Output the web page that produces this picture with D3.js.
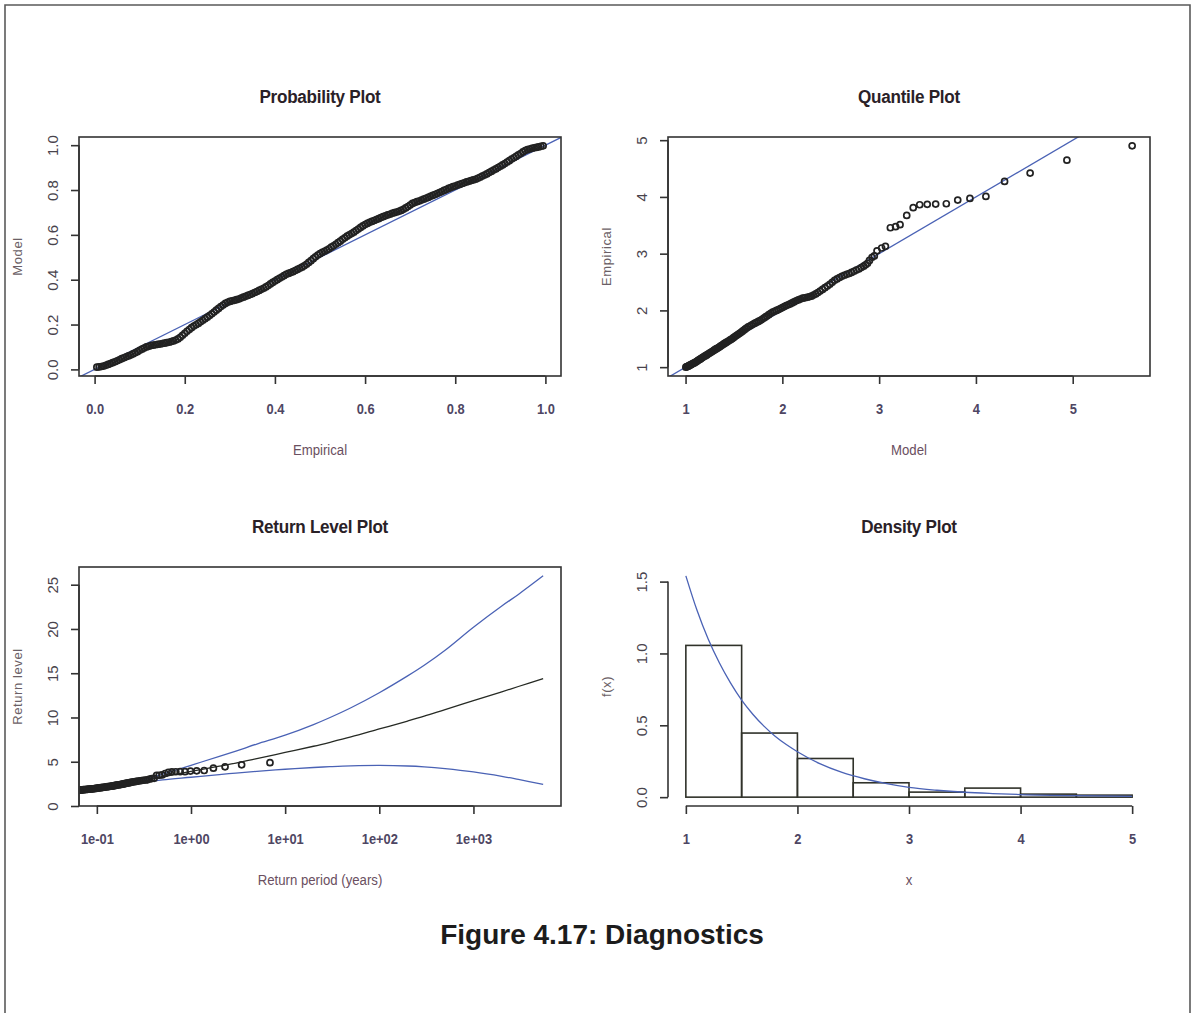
<!DOCTYPE html>
<html>
<head>
<meta charset="utf-8">
<script src="https://cdn.jsdelivr.net/npm/d3@7"></script>
<style>
  html, body { margin: 0; padding: 0; background: #fff; }
  svg { display: block; }
</style>
</head>
<body>
<svg id="fig" width="1193" height="1013"></svg>
<script>
// ---------- Probability plot: [empirical probability, model probability] ----------
const probPoints = [
  [0.005,.010],[0.010,.011],[0.015,.013],[0.020,.015],[0.025,.018],[0.030,.022],[0.035,.026],
  [0.040,.030],[0.045,.034],[0.050,.038],[0.055,.043],[0.060,.048],[0.065,.052],[0.070,.056],
  [0.075,.060],[0.080,.064],[0.085,.069],[0.090,.074],[0.095,.079],[0.100,.085],[0.105,.090],
  [0.110,.095],[0.115,.100],[0.120,.103],[0.125,.106],[0.130,.108],[0.135,.110],[0.140,.112],
  [0.145,.113],[0.150,.115],[0.155,.117],[0.160,.119],[0.165,.121],[0.170,.124],[0.175,.127],
  [0.180,.131],[0.185,.136],[0.190,.143],[0.195,.152],[0.200,.161],[0.205,.170],[0.210,.178],
  [0.215,.186],[0.220,.193],[0.225,.199],[0.230,.205],[0.235,.212],[0.240,.219],[0.245,.226],
  [0.250,.233],[0.255,.240],[0.260,.248],[0.265,.256],[0.270,.264],[0.275,.272],[0.280,.280],
  [0.285,.287],[0.290,.294],[0.295,.299],[0.300,.303],[0.305,.306],[0.310,.308],[0.315,.311],
  [0.320,.314],[0.325,.318],[0.330,.322],[0.335,.326],[0.340,.330],[0.345,.334],[0.350,.338],
  [0.355,.343],[0.360,.347],[0.365,.352],[0.370,.357],[0.375,.362],[0.380,.368],[0.385,.374],
  [0.390,.381],[0.395,.388],[0.400,.394],[0.405,.400],[0.410,.406],[0.415,.412],[0.420,.418],
  [0.425,.424],[0.430,.428],[0.435,.432],[0.440,.436],[0.445,.441],[0.450,.446],[0.455,.451],
  [0.460,.456],[0.465,.462],[0.470,.469],[0.475,.477],[0.480,.485],[0.485,.494],[0.490,.502],
  [0.495,.510],[0.500,.516],[0.505,.522],[0.510,.527],[0.515,.532],[0.520,.538],[0.525,.545],
  [0.530,.551],[0.535,.558],[0.540,.565],[0.545,.572],[0.550,.580],[0.555,.587],[0.560,.594],
  [0.565,.600],[0.570,.606],[0.575,.612],[0.580,.619],[0.585,.626],[0.590,.633],[0.595,.640],
  [0.600,.646],[0.605,.651],[0.610,.656],[0.615,.660],[0.620,.664],[0.625,.668],[0.630,.672],
  [0.635,.677],[0.640,.681],[0.645,.685],[0.650,.689],[0.655,.692],[0.660,.696],[0.665,.699],
  [0.670,.702],[0.675,.705],[0.680,.709],[0.685,.714],[0.690,.720],[0.695,.726],[0.700,.733],
  [0.705,.740],[0.710,.744],[0.715,.748],[0.720,.751],[0.725,.755],[0.730,.759],[0.735,.763],
  [0.740,.767],[0.745,.772],[0.750,.776],[0.755,.780],[0.760,.784],[0.765,.789],[0.770,.793],
  [0.775,.798],[0.780,.802],[0.785,.807],[0.790,.811],[0.795,.815],[0.800,.818],[0.805,.822],
  [0.810,.825],[0.815,.829],[0.820,.832],[0.825,.836],[0.830,.839],[0.835,.842],[0.840,.845],
  [0.845,.848],[0.850,.852],[0.855,.857],[0.860,.862],[0.865,.867],[0.870,.872],[0.875,.878],
  [0.880,.883],[0.885,.889],[0.890,.894],[0.895,.900],[0.900,.906],[0.905,.912],[0.910,.918],
  [0.915,.925],[0.920,.931],[0.925,.938],[0.930,.944],[0.935,.950],[0.940,.957],[0.945,.963],
  [0.950,.970],[0.955,.976],[0.960,.980],[0.965,.983],[0.970,.986],[0.975,.988],[0.980,.990],
  [0.985,.992],[0.990,.995],[0.995,.997]
];
const probTicks = [0, 0.2, 0.4, 0.6, 0.8, 1.0];

// ---------- Quantile plot: [model quantile, empirical quantile] ----------
const quantPoints = [
  [1.003,1.000],[1.010,1.005],[1.017,1.010],[1.025,1.015],[1.032,1.022],[1.040,1.030],
  [1.047,1.036],[1.055,1.042],[1.062,1.051],[1.070,1.060],[1.080,1.067],[1.090,1.075],
  [1.100,1.085],[1.110,1.095],[1.120,1.108],[1.130,1.120],[1.140,1.130],[1.150,1.140],
  [1.160,1.152],[1.170,1.165],[1.182,1.178],[1.195,1.190],[1.207,1.202],[1.220,1.215],
  [1.232,1.230],[1.245,1.245],[1.257,1.257],[1.270,1.270],[1.282,1.285],[1.295,1.300],
  [1.307,1.312],[1.320,1.325],[1.332,1.337],[1.345,1.350],[1.357,1.365],[1.370,1.380],
  [1.382,1.395],[1.395,1.410],[1.407,1.422],[1.420,1.435],[1.435,1.452],[1.450,1.470],
  [1.465,1.485],[1.480,1.500],[1.495,1.520],[1.510,1.540],[1.525,1.558],[1.540,1.575],
  [1.555,1.592],[1.570,1.610],[1.585,1.630],[1.600,1.650],[1.615,1.670],[1.630,1.690],
  [1.647,1.708],[1.665,1.725],[1.682,1.742],[1.700,1.760],[1.717,1.775],[1.735,1.790],
  [1.752,1.805],[1.770,1.820],[1.787,1.840],[1.805,1.860],[1.822,1.880],[1.840,1.900],
  [1.860,1.925],[1.880,1.950],[1.900,1.968],[1.920,1.985],[1.940,2.000],[1.960,2.015],
  [1.980,2.032],[2.000,2.050],[2.020,2.068],[2.040,2.085],[2.060,2.100],[2.080,2.115],
  [2.100,2.132],[2.120,2.150],[2.142,2.168],[2.165,2.185],[2.187,2.200],[2.210,2.215],
  [2.232,2.222],[2.255,2.230],[2.277,2.240],[2.300,2.250],[2.322,2.270],[2.345,2.290],
  [2.367,2.315],[2.390,2.340],[2.415,2.370],[2.440,2.400],[2.465,2.430],[2.490,2.460],
  [2.515,2.495],[2.540,2.530],[2.565,2.555],[2.590,2.580],[2.615,2.600],[2.640,2.620],
  [2.665,2.635],[2.690,2.650],[2.715,2.670],[2.740,2.690],[2.765,2.710],[2.790,2.730],
  [2.815,2.755],[2.840,2.780],[2.860,2.805],[2.880,2.830],[2.900,2.880],
  [2.927,2.935],[2.950,2.960],[2.978,3.050],[3.026,3.100],[3.065,3.130],[3.116,3.457],
  [3.170,3.475],[3.216,3.510],[3.285,3.674],[3.352,3.810],[3.419,3.862],[3.497,3.870],
  [3.584,3.874],[3.694,3.880],[3.812,3.944],[3.938,3.974],[4.103,4.009],[4.296,4.273],
  [4.560,4.420],[4.940,4.648],[5.614,4.900]
];
const quantTicks = [1, 2, 3, 4, 5];

// ---------- Return level plot ----------
const returnPeriods = [0.1,0.2,0.3,0.5,1,2,3,5,10,20,30,50,100,200,300,500,1000,2000,3000,5500];
const rlUpper = [1.95,2.5,2.9,3.6,4.6,5.6,6.2,7.0,8.0,9.2,10.0,11.1,12.8,14.7,15.9,17.6,20.2,22.6,23.9,26.0];
const rlLevel = [1.9,2.45,2.8,3.3,3.9,4.5,4.85,5.35,6.05,6.75,7.2,7.8,8.7,9.6,10.15,10.9,11.9,12.9,13.5,14.4];
const rlLower = [1.85,2.35,2.65,2.95,3.25,3.55,3.72,3.92,4.15,4.35,4.44,4.53,4.58,4.52,4.42,4.22,3.85,3.35,3.0,2.45];
// observed levels: [return period (years), level]
const rlPoints = [
  [6.90,4.90],[3.45,4.65],[2.30,4.42],[1.73,4.27],[1.38,4.01],[1.15,3.97],[0.986,3.94],
  [0.863,3.88],[0.767,3.875],[0.690,3.87],[0.627,3.86],[0.575,3.81],[0.531,3.67],[0.493,3.51],
  [0.460,3.475],[0.431,3.46],[0.406,3.13],[0.383,3.10],[0.363,3.05],[0.345,2.96],
  [0.329,2.94],[0.314,2.91],[0.300,2.88],[0.288,2.85],[0.276,2.82],[0.265,2.79],[0.256,2.76],
  [0.246,2.73],[0.238,2.70],[0.230,2.67],[0.223,2.64],[0.216,2.61],[0.209,2.58],[0.203,2.55],
  [0.197,2.52],[0.192,2.49],[0.187,2.46],[0.182,2.44],[0.177,2.42],[0.173,2.40],[0.168,2.38],
  [0.164,2.36],[0.160,2.34],[0.157,2.32],[0.153,2.30],[0.150,2.28],[0.147,2.26],[0.144,2.25],
  [0.141,2.23],[0.138,2.22],[0.134,2.20],[0.130,2.18],[0.126,2.16],[0.123,2.14],[0.119,2.12],
  [0.116,2.10],[0.113,2.08],[0.110,2.07],[0.107,2.05],[0.105,2.04],[0.102,2.02],[0.100,2.00],
  [0.097,1.98],[0.095,1.97],[0.092,1.95],[0.090,1.94],[0.088,1.93],[0.086,1.92],[0.084,1.91],
  [0.082,1.90],[0.080,1.88],[0.078,1.87],[0.076,1.86],[0.074,1.85],[0.072,1.84],[0.071,1.83],
  [0.069,1.82],[0.068,1.81],[0.066,1.80],[0.065,1.79],[0.062,1.77],[0.059,1.75],[0.056,1.72],
  [0.053,1.70],[0.050,1.68],[0.045,1.60],[0.040,1.50],[0.035,1.40],[0.030,1.30],[0.027,1.20],
  [0.025,1.10],[0.024,1.00]
];
const rlXTicks = [0.1, 1, 10, 100, 1000];
const rlXTickLabels = ["1e-01", "1e+00", "1e+01", "1e+02", "1e+03"];
const rlYTicks = [0, 5, 10, 15, 20, 25];

// ---------- Density plot ----------
const binEdges = [1, 1.5, 2, 2.5, 3, 3.5, 4, 4.5, 5];
const binDensity = [1.056, 0.446, 0.269, 0.100, 0.035, 0.063, 0.021, 0.014];
const densX = [1.0,1.1,1.2,1.3,1.4,1.5,1.6,1.7,1.8,1.9,2.0,2.2,2.4,2.6,2.8,3.0,3.25,3.5,3.75,4.0,4.5,5.0];
const densY = [1.54,1.30,1.10,0.935,0.795,0.675,0.577,0.494,0.424,0.366,0.316,0.233,0.172,0.128,0.094,0.068,0.048,0.034,0.025,0.018,0.010,0.006];
const densXTicks = [1, 2, 3, 4, 5];
const densYTicks = [0, 0.5, 1.0, 1.5];

// ---------- layout & style ----------
const COL = { left: [79, 561], right: [668, 1150] };
const ROW = { top: [137, 376], bottom: [567, 806] };
const BLUE = "#4a62b5";
const INK = "#222";
const SANS = "'Liberation Sans',Arial,sans-serif";

const svg = d3.select("#fig");
svg.append("rect").attr("width", 1193).attr("height", 1013).attr("fill", "#fff");
// page frame
svg.append("path")
  .attr("d", "M5,1013 V5 H1190 V1013")
  .attr("fill", "none").attr("stroke", "#5a5a5a").attr("stroke-width", 1.6);

// R-style axis range: data extent widened by 4% on each side
function pad(ext) { const d = (ext[1] - ext[0]) * 0.04; return [ext[0] - d, ext[1] + d]; }

let clipId = 0;
function panel(col, row, title, xlab, ylab, withBox) {
  const [x0, x1] = COL[col], [y0, y1] = ROW[row];
  const g = svg.append("g");
  const id = "clip" + (clipId++);
  g.append("clipPath").attr("id", id).append("rect")
    .attr("x", x0).attr("y", y0).attr("width", x1 - x0).attr("height", y1 - y0);
  const cx = (x0 + x1) / 2;
  // condensed bold title
  g.append("text").attr("transform", `translate(${cx},${y0 - 34}) scale(0.9,1)`)
    .attr("text-anchor", "middle").attr("font-family", SANS).attr("font-weight", "bold")
    .attr("font-size", 19).attr("fill", "#2a2127").attr("letter-spacing", -0.3).text(title);
  g.append("text").attr("transform", `translate(${cx},${y1 + 79}) scale(0.88,1)`)
    .attr("text-anchor", "middle").attr("font-family", SANS)
    .attr("font-size", 15).attr("fill", "#6a4f60").text(xlab);
  g.append("text")
    .attr("transform", `translate(${x0 - 57},${(y0 + y1) / 2}) rotate(-90)`)
    .attr("text-anchor", "middle").attr("font-family", SANS)
    .attr("font-size", 13).attr("fill", "#6b5f66").attr("letter-spacing", 0.6).text(ylab);
  const plot = g.append("g").attr("clip-path", `url(#${id})`);
  const axes = g.append("g");
  if (withBox) {
    g.append("rect").attr("x", x0).attr("y", y0).attr("width", x1 - x0).attr("height", y1 - y0)
      .attr("fill", "none").attr("stroke", "#333").attr("stroke-width", 1.6);
  }
  return { g, plot, axes, x0, x1, y0, y1 };
}

function xAxis(p, scale, ticks, labels, yPos) {
  const ax = p.axes.append("g").attr("transform", `translate(0,${yPos})`)
    .call(d3.axisBottom(scale).tickValues(ticks).tickSize(8)
      .tickFormat((d, i) => labels[i]));
  ax.select(".domain").remove();
  ax.append("line").attr("x1", scale(ticks[0])).attr("x2", scale(ticks[ticks.length - 1]))
    .attr("stroke", "#333").attr("stroke-width", 1.6);
  ax.selectAll(".tick line").attr("stroke", "#333").attr("stroke-width", 1.6);
  ax.selectAll(".tick text").attr("y", 0).attr("dy", 0)
    .attr("transform", `translate(0,${p.y1 + 38 - yPos}) scale(0.86,1)`)
    .attr("font-family", SANS).attr("font-weight", "bold")
    .attr("font-size", 15).attr("fill", "#4e4663");
  return ax;
}

function yAxis(p, scale, ticks, labels) {
  const ax = p.axes.append("g").attr("transform", `translate(${p.x0},0)`)
    .call(d3.axisLeft(scale).tickValues(ticks).tickSize(8)
      .tickFormat((d, i) => labels[i]));
  ax.select(".domain").remove();
  ax.append("line").attr("y1", scale(ticks[0])).attr("y2", scale(ticks[ticks.length - 1]))
    .attr("stroke", "#333").attr("stroke-width", 1.6);
  ax.selectAll(".tick line").attr("stroke", "#333").attr("stroke-width", 1.6);
  ax.selectAll(".tick text").attr("x", 0).attr("y", 0).attr("dy", "0.36em")
    .attr("text-anchor", "middle").attr("transform", "translate(-26,0) rotate(-90)")
    .attr("font-family", SANS).attr("font-size", 15).attr("fill", "#48434c");
  return ax;
}

function circles(sel, data, x, y) {
  sel.selectAll(null).data(data).enter().append("circle")
    .attr("cx", d => x(d[0])).attr("cy", d => y(d[1])).attr("r", 3.0)
    .attr("fill", "none").attr("stroke", INK).attr("stroke-width", 1.7);
}

function diagonal(sel, x, y) {
  const lo = Math.min(x.domain()[0], y.domain()[0]) - 1;
  const hi = Math.max(x.domain()[1], y.domain()[1]) + 1;
  sel.append("line").attr("x1", x(lo)).attr("y1", y(lo)).attr("x2", x(hi)).attr("y2", y(hi))
    .attr("stroke", BLUE).attr("stroke-width", 1.3);
}

const fmt1 = d3.format(".1f");

// ---------- Probability Plot ----------
{
  const p = panel("left", "top", "Probability Plot", "Empirical", "Model", true);
  const x = d3.scaleLinear().domain(pad(d3.extent(probPoints, d => d[0]))).range([p.x0, p.x1]);
  const y = d3.scaleLinear().domain(pad(d3.extent(probPoints, d => d[1]))).range([p.y1, p.y0]);
  diagonal(p.plot, x, y);
  circles(p.plot, probPoints, x, y);
  xAxis(p, x, probTicks, probTicks.map(fmt1), p.y1);
  yAxis(p, y, probTicks, probTicks.map(fmt1));
}

// ---------- Quantile Plot ----------
{
  const p = panel("right", "top", "Quantile Plot", "Model", "Empirical", true);
  const x = d3.scaleLinear().domain(pad(d3.extent(quantPoints, d => d[0]))).range([p.x0, p.x1]);
  const y = d3.scaleLinear().domain(pad(d3.extent(quantPoints, d => d[1]))).range([p.y1, p.y0]);
  diagonal(p.plot, x, y);
  circles(p.plot, quantPoints, x, y);
  xAxis(p, x, quantTicks, quantTicks.map(String), p.y1);
  yAxis(p, y, quantTicks, quantTicks.map(String));
}

// ---------- Return Level Plot ----------
{
  const p = panel("left", "bottom", "Return Level Plot", "Return period (years)", "Return level", true);
  const lx = pad(d3.extent(returnPeriods).map(Math.log10));
  const x = d3.scaleLog().domain([Math.pow(10, lx[0]), Math.pow(10, lx[1])]).range([p.x0, p.x1]);
  const allLevels = rlUpper.concat(rlLevel, rlLower, rlPoints.map(d => d[1]));
  const y = d3.scaleLinear().domain(pad(d3.extent(allLevels))).range([p.y1, p.y0]);
  const line = d3.line().x(d => x(d[0])).y(d => y(d[1])).curve(d3.curveCatmullRom.alpha(0.5));
  const series = [[rlUpper, BLUE], [rlLower, BLUE], [rlLevel, "#262a24"]];
  series.forEach(([vals, col]) => {
    p.plot.append("path").attr("d", line(returnPeriods.map((t, i) => [t, vals[i]])))
      .attr("fill", "none").attr("stroke", col).attr("stroke-width", 1.3);
  });
  circles(p.plot, rlPoints, x, y);
  xAxis(p, x, rlXTicks, rlXTickLabels, p.y1);
  yAxis(p, y, rlYTicks, rlYTicks.map(String));
}

// ---------- Density Plot ----------
{
  const p = panel("right", "bottom", "Density Plot", "x", "f(x)", false);
  const x = d3.scaleLinear().domain(pad(d3.extent(binEdges))).range([p.x0, p.x1]);
  const y = d3.scaleLinear().domain(pad([0, d3.max(densY.concat(binDensity))])).range([p.y1, p.y0]);
  p.plot.selectAll(null).data(binDensity).enter().append("rect")
    .attr("x", (d, i) => x(binEdges[i])).attr("width", (d, i) => x(binEdges[i + 1]) - x(binEdges[i]))
    .attr("y", d => y(d)).attr("height", d => y(0) - y(d))
    .attr("fill", "none").attr("stroke", "#30322a").attr("stroke-width", 1.6);
  p.plot.append("path")
    .attr("d", d3.line().x(d => x(d[0])).y(d => y(d[1])).curve(d3.curveMonotoneX)(densX.map((v, i) => [v, densY[i]])))
    .attr("fill", "none").attr("stroke", BLUE).attr("stroke-width", 1.3);
  xAxis(p, x, densXTicks, densXTicks.map(String), p.y1);
  yAxis(p, y, densYTicks, densYTicks.map(fmt1));
}

// ---------- caption ----------
svg.append("text").attr("x", 602).attr("y", 944).attr("text-anchor", "middle")
  .attr("font-family", SANS).attr("font-weight", "bold").attr("font-size", 28)
  .attr("fill", "#1c1c1c").text("Figure 4.17: Diagnostics");
</script>
</body>
</html>
